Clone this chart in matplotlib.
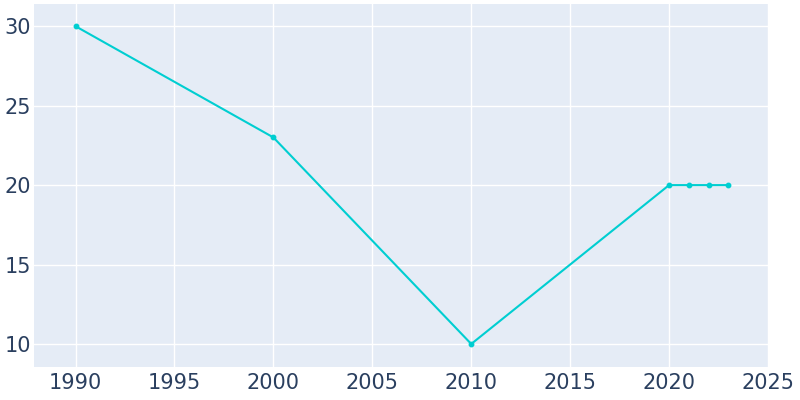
import matplotlib
matplotlib.use("Agg")
import matplotlib.pyplot as plt

plt.rcParams["font.family"] = ["DejaVu Sans"]

years = [1990, 2000, 2010, 2020, 2021, 2022, 2023]
values = [30, 23, 10, 20, 20, 20, 20]
xticks = [1990, 1995, 2000, 2005, 2010, 2015, 2020, 2025]
yticks = [10, 15, 20, 25, 30]

fig = plt.figure(figsize=(8, 4), dpi=100)
ax = fig.add_axes([34/800, 33/400, (768-34)/800, (367-4)/400])
ax.set_facecolor("#E5ECF6")
for s in ax.spines.values():
    s.set_visible(False)
ax.grid(True, color="white", linewidth=1)
ax.set_axisbelow(True)
ax.plot(years, values, color="#00CED1", linewidth=1.5, marker="o", markersize=3.2, zorder=3)
ax.set_xlim(1987.9, 2025)
ax.set_ylim(8.55, 31.4)
ax.set_xticks(xticks)
ax.set_yticks(yticks)
ax.tick_params(axis="x", length=0, labelsize=15, labelcolor="#2a3f5f", pad=4)
ax.tick_params(axis="y", length=0, labelsize=15, labelcolor="#2a3f5f", pad=2)
fig.savefig("out.png", dpi=100)
